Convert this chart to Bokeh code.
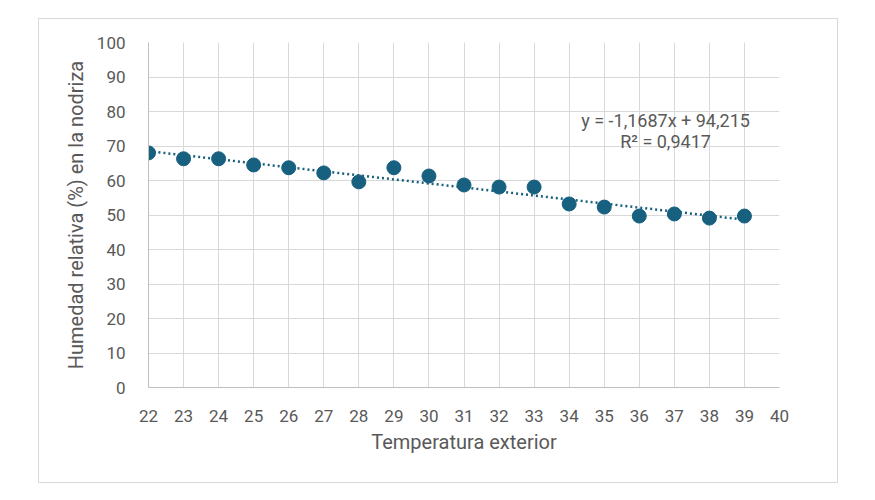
from bokeh.plotting import figure
from bokeh.models import Label, FixedTicker
from bokeh.embed import file_html
from bokeh.resources import INLINE

# Outdoor temperature (°C) and relative humidity in the nurse plant (%)
temperatura = [22, 23, 24, 25, 26, 27, 28, 29, 30, 31, 32, 33, 34, 35, 36, 37, 38, 39]
humedad = [68.0, 66.3, 66.3, 64.5, 63.7, 62.2, 59.6, 63.7, 61.3, 58.7, 58.1, 58.1,
           53.2, 52.3, 49.7, 50.3, 49.1, 49.7]

# Linear trendline coefficients
pendiente = -1.1687
intercepto = 94.215
r2 = 0.9417

x_ticks = list(range(22, 41))
y_ticks = list(range(0, 101, 10))

COLOR = "#17607f"
TEXT = "#595959"
FONT = "Roboto"

p = figure(width=800, height=465, output_backend="svg", toolbar_location=None,
           x_range=(22, 40), y_range=(0, 100),
           min_border_left=109, min_border_right=60, min_border_top=23, min_border_bottom=97,
           margin=(18, 0, 0, 38),
           styles={"border": "1px solid #d9d9d9", "box-sizing": "border-box"})
p.outline_line_color = None
p.background_fill_color = "white"
p.border_fill_color = "white"

for ax in (p.xaxis[0], p.yaxis[0]):
    ax.axis_line_color = "#bfbfbf"
    ax.axis_line_width = 1
    ax.major_tick_line_color = None
    ax.minor_tick_line_color = None
    ax.major_label_text_color = TEXT
    ax.major_label_text_font = FONT
    ax.major_label_text_font_size = "17px"
    ax.axis_label_text_color = TEXT
    ax.axis_label_text_font = FONT
    ax.axis_label_text_font_size = "20px"
    ax.axis_label_text_font_style = "normal"

p.xaxis.ticker = FixedTicker(ticks=x_ticks)
p.yaxis.ticker = FixedTicker(ticks=y_ticks)
p.xaxis.major_label_standoff = 16
p.yaxis.major_label_standoff = 17
p.xaxis.axis_label = "Temperatura exterior"
p.yaxis.axis_label = "Humedad relativa (%) en la nodriza"
p.xaxis.axis_label_standoff = 5
p.yaxis.axis_label_standoff = 6

p.xgrid.ticker = FixedTicker(ticks=x_ticks)
p.ygrid.ticker = FixedTicker(ticks=y_ticks)
p.xgrid.grid_line_color = "#d9d9d9"
p.ygrid.grid_line_color = "#d9d9d9"

# Trendline
x0, x1 = temperatura[0], temperatura[-1]
p.line([x0, x1], [pendiente * x0 + intercepto, pendiente * x1 + intercepto],
       line_color=COLOR, line_width=2.5, line_dash="2 3")

# Data points
p.scatter(temperatura, humedad, size=14, fill_color=COLOR, line_color=COLOR)

# Equation labels
def fmt(v, d):
    return f"{v:.{d}f}".replace(".", ",")

eq = f"y = {fmt(pendiente, 4)}x + {fmt(intercepto, 3)}"
p.add_layout(Label(x=36.75, y=77.5, text=eq,
                   text_align="center", text_baseline="middle", text_font=FONT,
                   text_font_size="18px", text_color=TEXT))
p.add_layout(Label(x=36.75, y=71.4, text=f"R² = {fmt(r2, 4)}",
                   text_align="center", text_baseline="middle", text_font=FONT,
                   text_font_size="18px", text_color=TEXT))

open("out.html", "w").write(file_html(p, INLINE))
